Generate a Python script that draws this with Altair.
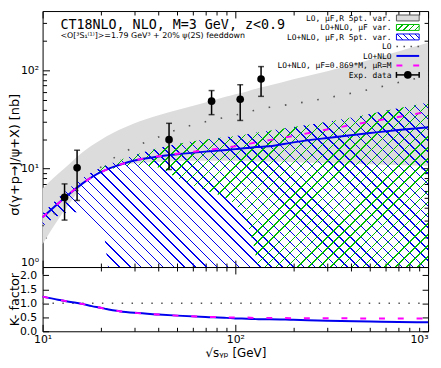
import math
import altair as alt
import pandas as pd

# ---------------- data ----------------
S        = [10, 12, 14, 16, 18, 20, 21, 22, 25, 30, 40, 50, 70, 90, 100, 115, 125, 132, 150, 200, 300, 500, 700, 1000]
LO_UP    = [6.3, 8.8, 11.5, 14.5, 17.2, 19.6, 20.7, 21.8, 24.8, 29.0, 35.0, 39.5, 47.0, 54.0, 57.0, 61.0, 64.0, 66.0, 70.0, 81.0, 98.0, 128.0, 155.0, 190.0]
LO_DN    = [1.7, 3.0, 4.6, 6.8, 8.5, 9.6, 10.0, 10.3, 10.8, 11.3, 11.7, 11.9, 12.0, 12.0, 12.0, 11.9, 11.9, 11.8, 11.8, 11.6, 11.4, 11.1, 10.9, 10.7]
LO_C     = [2.6, 3.8, 5.1, 6.6, 8.4, 10.3, 11.1, 11.9, 13.8, 16.6, 21.0, 25.0, 30.0, 33.5, 35.0, 37.5, 39.0, 40.0, 42.0, 45.5, 52.5, 64.0, 75.0, 88.0]
NLO      = [3.2, 4.4, 5.7, 7.0, 8.2, 9.2, 9.6, 10.0, 10.9, 12.1, 13.3, 14.0, 14.9, 15.5, 15.8, 16.2, 16.5, 16.6, 16.9, 18.5, 20.5, 23.0, 24.7, 26.3]
NLO_MUF  = [3.2, 4.4, 5.7, 7.0, 8.2, 9.2, 9.6, 10.0, 10.9, 12.1, 13.4, 14.2, 15.4, 16.4, 16.9, 17.7, 18.3, 18.7, 19.5, 21.5, 25.0, 30.0, 33.5, 38.0]
HATCH_UP = [3.5, 5.0, 6.5, 8.0, 9.2, 10.2, 10.7, 11.1, 12.2, 13.8, 16.2, 17.8, 19.8, 21.0, 21.5, 22.4, 23.0, 23.4, 24.3, 26.5, 30.0, 36.0, 41.0, 47.0]
BLUE_DN  = [2.6, 3.3, 3.6, 3.6, 3.0, 2.3, 1.9, 1.0, 1.0, 1.0, 1.0, 1.0, 1.0, 1.0, 1.0, 1.0, 1.0, 1.0, 1.0, 1.0, 1.0, 1.0, 1.0, 1.0]
GREEN_S  = [18, 20, 21, 22, 25, 30, 40, 50, 70, 90, 100, 115, 125, 132, 150, 200, 300, 500, 700, 1000]
GREEN_UP = [9.2, 10.2, 10.7, 11.1, 12.2, 13.8, 16.2, 17.8, 19.8, 21.0, 21.5, 22.4, 23.0, 23.4, 24.3, 26.5, 30.0, 36.0, 41.0, 47.0]
GREEN_DN = [8.4, 9.2, 9.5, 9.8, 10.3, 10.8, 10.3, 8.0, 6.0, 5.0, 4.3, 2.8, 1.6, 1.0, 1.0, 1.0, 1.0, 1.0, 1.0, 1.0]

K_NLO    = [1.24, 1.13, 1.05, 0.98, 0.90, 0.84, 0.81, 0.78, 0.72, 0.66, 0.60, 0.56, 0.51, 0.48, 0.46, 0.45, 0.44, 0.43, 0.43, 0.41, 0.38, 0.35, 0.33, 0.32]
K_MUF    = [1.24, 1.13, 1.05, 0.98, 0.90, 0.84, 0.81, 0.78, 0.72, 0.66, 0.60, 0.56, 0.52, 0.50, 0.49, 0.49, 0.48, 0.48, 0.48, 0.47, 0.47, 0.46, 0.46, 0.46]
K_REF_S  = [10, 1000]
K_REF    = [1.0, 1.0]

EXP_S    = [13.0, 15.1, 45.3, 75.3, 106.0, 136.0]
EXP_Y    = [5.1, 10.2, 19.7, 48.5, 50.8, 81.6]
EXP_LO   = [3.0, 4.75, 9.8, 35.4, 30.9, 54.3]
EXP_HI   = [7.0, 15.4, 28.9, 62.2, 71.3, 109.0]

X_TICKS  = [10, 20, 30, 40, 50, 60, 70, 80, 90, 100, 200, 300, 400, 500, 600, 700, 800, 900, 1000]
Y_TICKS  = [1, 2, 3, 4, 5, 6, 7, 8, 9, 10, 20, 30, 40, 50, 60, 70, 80, 90, 100, 200, 300]
K_TICKS  = [0.0, 0.5, 1.0, 1.5, 2.0]

TITLE    = "CT18NLO, NLO, M=3 GeV, z<0.9"
SUBTITLE = "<O[³S₁⁽¹⁾]>=1.79 GeV³ + 20% ψ(2S) feeddown"
LEGEND   = ["LO, μF,R 5pt. var.", "LO+NLO, μF var.", "LO+NLO, μF,R 5pt. var.", "LO",
            "LO+NLO", "LO+NLO, μF=0.869*M, μR=M", "Exp. data"]

# ---------------- layout / style ----------------
PW, TOP_H, BOT_H = 390, 259, 65
Y_DOM = [1, 400]
K_DOM = [0, 2.3]
BLUE, GREEN, MAG, GRAY = "#0000ee", "#00bb00", "#ff00ff", "#dcdcdc"
MONO, SANS = "DejaVu Sans Mono", "DejaVu Sans"

xs = alt.Scale(type="log", domain=[10, 1000], nice=False)
ys = alt.Scale(type="log", domain=Y_DOM, nice=False)
ks = alt.Scale(domain=K_DOM, nice=False, zero=False)

LOGMAJ = "abs(log(datum.value)/LN10 - round(log(datum.value)/LN10)) < 0.001"
TS_LOG = {"expr": f"({LOGMAJ}) ? -7 : -4"}
TS_LIN = {"expr": "-6"}


def ax(orient, values, ts, labels=False, **kw):
    opts = dict(domain=False, grid=False, tickColor="black", tickWidth=1, labelFlush=False,
                labelOverlap=False, labelFont=SANS, labelFontSize=11, labelColor="black",
                titleFont=SANS, titleFontSize=13, titleFontWeight="normal", titleColor="black")
    if not labels:
        opts.update(minExtent=0, maxExtent=0)
    opts.update(kw)
    return alt.Axis(orient=orient, values=values, tickSize=ts, labels=labels, **opts)


def hatch(color, W, H, spacing, lw, slant):
    r = H / W
    k = (1 + r) / (1 + r * r)
    if slant == "back":
        x1, y1, x2, y2 = 0, 1, k, 1 - k * r
    else:
        x1, y1, x2, y2 = 0, 0, k, k * r
    per = spacing / (W + H)
    wt = lw / (W + H)
    clear = "rgba(255,255,255,0)"
    stops = []
    i = 0
    while i * per < 1:
        a = i * per
        b = min(a + wt, 1.0)
        c = min((i + 1) * per, 1.0)
        stops += [alt.GradientStop(offset=round(a, 6), color=color),
                  alt.GradientStop(offset=round(b, 6), color=color),
                  alt.GradientStop(offset=round(b, 6), color=clear),
                  alt.GradientStop(offset=round(c, 6), color=clear)]
        i += 1
    return alt.LinearGradient(gradient="linear", stops=stops, x1=x1, y1=y1, x2=x2, y2=y2)


def xpx(s):
    return PW * math.log10(s / 10) / 2


def ypx(v):
    return TOP_H * (1 - math.log10(v / Y_DOM[0]) / math.log10(Y_DOM[1] / Y_DOM[0]))


df = pd.DataFrame({"s": S, "lo_up": LO_UP, "lo_dn": LO_DN, "lo": LO_C, "nlo": NLO,
                   "muf": NLO_MUF, "h_up": HATCH_UP, "b_dn": BLUE_DN,
                   "k_nlo": K_NLO, "k_muf": K_MUF})
gdf = pd.DataFrame({"s": GREEN_S, "g_up": GREEN_UP, "g_dn": GREEN_DN})
edf = pd.DataFrame({"s": EXP_S, "y": EXP_Y, "lo": EXP_LO, "hi": EXP_HI})
rdf = pd.DataFrame({"s": K_REF_S, "k": K_REF})

# hatch gradient geometry (bounding boxes of the areas in pixels)
bW = xpx(max(S)) - xpx(min(S))
bH = ypx(min(BLUE_DN)) - ypx(max(HATCH_UP))
gW = xpx(max(GREEN_S)) - xpx(min(GREEN_S))
gH = ypx(min(GREEN_DN)) - ypx(max(GREEN_UP))
blue_fill = hatch(BLUE, bW, bH, 11, 1.5, "back")
green_fill = hatch(GREEN, gW, gH, 11, 1.5, "fwd")

XN = alt.X("s:Q", scale=xs, axis=None)

band = alt.Chart(df).mark_area(color=GRAY, opacity=1, interpolate="monotone").encode(
    x=alt.X("s:Q", scale=xs, axis=ax("bottom", X_TICKS, TS_LOG, title=None)),
    y=alt.Y("lo_up:Q", scale=ys,
            axis=ax("left", Y_TICKS, TS_LOG, labels=True, labelPadding=11,
                    labelBaseline={"condition": {"test": "datum.value == 1", "value": "bottom"},
                                   "value": "middle"},
                    labelExpr="datum.value == 1 ? '10⁰' : datum.value == 10 ? '10¹' : datum.value == 100 ? '10²' : ''",
                    title="σ(γ+p→J/ψ+X)  [nb]", titleX=-28, titleY=145, titleBaseline="middle")),
    y2="lo_dn:Q")

blue_area = alt.Chart(df).mark_area(fill=blue_fill, opacity=1, interpolate="monotone").encode(
    x=XN, y=alt.Y("h_up:Q", scale=ys, axis=None), y2="b_dn:Q")

green_area = alt.Chart(gdf).mark_area(fill=green_fill, opacity=1, interpolate="monotone").encode(
    x=XN, y=alt.Y("g_up:Q", scale=ys, axis=None), y2="g_dn:Q")

lo_line = alt.Chart(df).mark_line(color="#555555", strokeWidth=1.6, strokeDash=[1.6, 15],
                                  interpolate="monotone").encode(
    x=alt.X("s:Q", scale=xs, axis=ax("top", X_TICKS, TS_LOG, title=None)),
    y=alt.Y("lo:Q", scale=ys, axis=ax("right", Y_TICKS, TS_LOG, title=None)))

nlo_line = alt.Chart(df).mark_line(color=BLUE, strokeWidth=2, interpolate="monotone").encode(
    x=XN, y=alt.Y("nlo:Q", scale=ys, axis=None))

muf_line = alt.Chart(df).mark_line(color=MAG, strokeWidth=2, strokeDash=[6, 13],
                                   interpolate="monotone").encode(
    x=XN, y=alt.Y("muf:Q", scale=ys, axis=None))

err = alt.Chart(edf).mark_rule(color="black", strokeWidth=1.5).encode(
    x=XN, y=alt.Y("lo:Q", scale=ys, axis=None), y2="hi:Q")
cap_lo = alt.Chart(edf).mark_tick(color="black", orient="horizontal", size=6, thickness=1.5).encode(
    x=XN, y=alt.Y("lo:Q", scale=ys, axis=None))
cap_hi = alt.Chart(edf).mark_tick(color="black", orient="horizontal", size=6, thickness=1.5).encode(
    x=XN, y=alt.Y("hi:Q", scale=ys, axis=None))
pts = alt.Chart(edf).mark_circle(color="black", size=60, opacity=1).encode(
    x=XN, y=alt.Y("y:Q", scale=ys, axis=None))

one = pd.DataFrame({"a": [0]})


def txt(t, x, y, size, font, align="left"):
    return alt.Chart(one).mark_text(text=t, font=font, fontSize=size, align=align,
                                    baseline="alphabetic", color="black").encode(
        x=alt.value(x), y=alt.value(y))


title_t = txt(TITLE, 18, 18, 13.5, MONO)
sub_t = txt(SUBTITLE, 18, 27.5, 8, SANS)

# legend
LX_T, LX0, LX1, LY0, LDY = 353, 358, 381, 7, 9.6
leg = []
for i, lab in enumerate(LEGEND):
    leg.append(txt(lab, LX_T, LY0 + i * LDY + 3, 8, MONO, align="right"))


def lrect(i, fill, stroke):
    yc = LY0 + i * LDY
    return alt.Chart(one).mark_rect(fill=fill, stroke=stroke, strokeWidth=1, opacity=1).encode(
        x=alt.value(LX0), x2=alt.value(LX1), y=alt.value(yc - 3), y2=alt.value(yc + 3))


def lrule(i, color, width, dash=None, x0=LX0, x1=LX1):
    yc = LY0 + i * LDY
    kw = dict(color=color, strokeWidth=width)
    if dash:
        kw["strokeDash"] = dash
    return alt.Chart(one).mark_rule(**kw).encode(
        x=alt.value(x0), x2=alt.value(x1), y=alt.value(yc))


leg += [
    lrect(0, GRAY, "#555555"),
    lrect(1, hatch(GREEN, LX1 - LX0, 6, 6, 1.3, "fwd"), GREEN),
    lrect(2, hatch(BLUE, LX1 - LX0, 6, 6, 1.3, "back"), BLUE),
    lrule(3, "#555555", 1.6, [1.6, 5.5]),
    lrule(4, BLUE, 2),
    lrule(5, MAG, 2, [6, 11]),
    lrule(6, "black", 1.5),
    alt.Chart(one).mark_rule(color="black", strokeWidth=1.5).encode(
        x=alt.value(LX0), y=alt.value(LY0 + 6 * LDY - 3), y2=alt.value(LY0 + 6 * LDY + 3)),
    alt.Chart(one).mark_rule(color="black", strokeWidth=1.5).encode(
        x=alt.value(LX1), y=alt.value(LY0 + 6 * LDY - 3), y2=alt.value(LY0 + 6 * LDY + 3)),
    alt.Chart(one).mark_circle(color="black", size=60, opacity=1).encode(
        x=alt.value((LX0 + LX1) / 2), y=alt.value(LY0 + 6 * LDY)),
]

top = alt.layer(band, blue_area, green_area, lo_line, nlo_line, muf_line,
                err, cap_lo, cap_hi, pts, title_t, sub_t, *leg).properties(width=PW, height=TOP_H)

# ---------------- K-factor panel ----------------
k_nlo = alt.Chart(df).mark_line(color=BLUE, strokeWidth=2, interpolate="monotone").encode(
    x=alt.X("s:Q", scale=xs,
            axis=ax("bottom", X_TICKS, TS_LOG, labels=True, labelPadding=9,
                    labelAlign={"condition": {"test": "datum.value == 1000", "value": "right"},
                                "value": "center"},
                    labelExpr="datum.value == 10 ? '10¹' : datum.value == 100 ? '10²' : datum.value == 1000 ? '10³' : ''",
                    title="√sᵧₚ  [GeV]", titlePadding=1, titleFontSize=12)),
    y=alt.Y("k_nlo:Q", scale=ks,
            axis=ax("left", K_TICKS, TS_LIN, labels=True, labelPadding=12, format=".1f",
                    title="K- factor", titleX=-28, titleY=32.5, titleBaseline="middle")))
k_muf = alt.Chart(df).mark_line(color=MAG, strokeWidth=2, strokeDash=[6, 13],
                                interpolate="monotone").encode(
    x=XN, y=alt.Y("k_muf:Q", scale=ks, axis=None))
k_ref = alt.Chart(rdf).mark_line(color="#555555", strokeWidth=1.5, strokeDash=[1.5, 8.5]).encode(
    x=alt.X("s:Q", scale=xs, axis=ax("top", X_TICKS, TS_LOG, title=None)),
    y=alt.Y("k:Q", scale=ks, axis=ax("right", K_TICKS, TS_LIN, title=None)))

bottom = alt.layer(k_ref, k_nlo, k_muf).properties(width=PW, height=BOT_H)

chart = alt.vconcat(top, bottom, spacing=0, bounds="flush").properties(
    padding={"left": 0, "top": 0, "right": 0, "bottom": 0}
).configure_view(stroke="black", strokeWidth=1)

chart.save("out.html", embed_options={"renderer": "svg", "actions": False})
